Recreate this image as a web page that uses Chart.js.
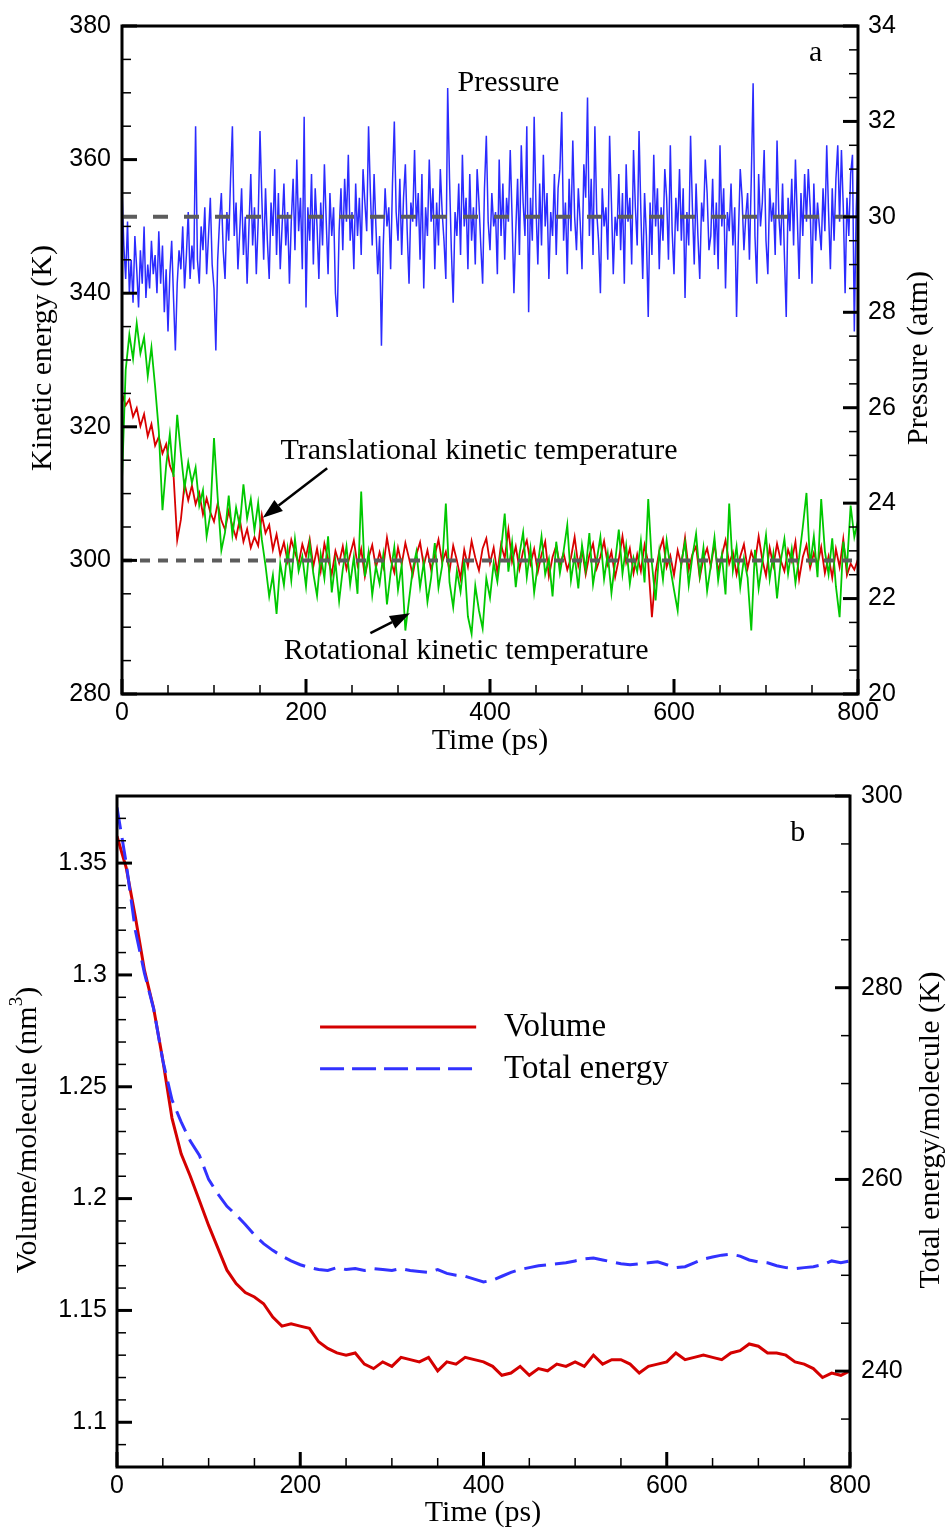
<!DOCTYPE html>
<html>
<head>
<meta charset="utf-8">
<script src="https://cdn.jsdelivr.net/npm/chart.js@4.4.1/dist/chart.umd.min.js"></script>
<style>
html, body { margin: 0; padding: 0; background: #fff; }
canvas { display: block; }
</style>
</head>
<body>
<canvas id="chartA" width="950" height="765"></canvas>
<canvas id="chartB" width="950" height="767"></canvas>
<script>
// ---- panel a ----
// pressure sampled every 2 ps, temperatures every 4 ps (0 to 800)
const stepP = 2;
const stepA = 4;

// pressure (atm), right axis
const pressure = [
  30.6, 29.4, 28.7, 29.9, 28.4, 29.1, 28.2, 29.6, 28.9, 28.1, 29.3, 28.6, 29.8, 28.3, 29.0, 28.5, 29.5, 28.8, 29.2, 28.4,
  29.7, 28.6, 29.4, 28.0, 28.9, 27.6, 28.8, 29.5, 28.3, 27.2, 28.6, 29.3, 28.9, 29.8, 28.5, 29.2, 30.1, 28.7, 29.4, 28.9,
  31.9, 29.1, 28.6, 29.8, 29.3, 30.2, 28.8, 29.6, 30.4, 29.0, 28.5, 27.2, 29.1, 29.9, 30.5, 29.3, 28.7, 30.1, 29.5, 30.8,
  31.9, 29.6, 30.3, 28.9, 29.7, 30.6, 29.2, 30.0, 28.6, 29.8, 30.9, 29.4, 30.2, 28.8, 29.9, 31.8, 30.4, 29.1, 30.6, 29.5,
  28.7, 30.3, 29.6, 31.0, 29.2, 30.5, 28.9, 29.8, 30.7, 29.4, 30.1, 28.6, 29.9, 30.8, 29.3, 31.2, 29.7, 30.4, 28.9, 32.1,
  28.1, 30.2, 29.5, 30.9, 29.0, 30.6, 29.8, 28.7, 30.3, 29.4, 31.1, 29.9, 28.8, 30.5, 29.6, 30.2, 28.4, 27.9, 29.7, 30.6,
  29.3, 30.8, 29.9, 31.3, 29.5, 30.1, 28.9, 30.7, 29.6, 30.4, 29.2, 31.0, 30.3, 29.7, 31.9, 30.5, 29.4, 30.9, 29.8, 28.8,
  29.6, 27.3, 29.4, 30.6, 29.8, 30.2, 28.9, 30.7, 32.0, 30.1, 29.5, 30.8, 29.2, 30.4, 31.1, 29.7, 28.6, 30.3, 29.9, 31.4,
  29.8, 30.5, 29.1, 30.9, 28.5, 30.2, 29.6, 31.2, 29.9, 30.6, 28.9, 30.3, 29.4, 31.0, 30.1, 29.5, 28.7, 32.7, 30.8, 29.3,
  28.2, 30.1, 29.6, 30.7, 29.2, 31.3, 29.8, 30.4, 28.9, 30.9, 29.5, 30.2, 29.0, 31.0, 30.3, 29.4, 28.6, 30.6, 31.7, 29.9,
  29.3, 30.5, 29.8, 30.1, 28.8, 31.2, 29.6, 30.7, 29.1, 30.4, 29.9, 31.4, 30.0, 28.4, 29.7, 30.8, 29.2, 31.5, 30.3, 29.6,
  31.9, 28.0, 30.4, 29.5, 32.1, 30.2, 29.0, 30.7, 29.4, 31.3, 29.8, 30.5, 28.7, 30.1, 29.6, 30.9, 29.2, 30.6, 31.0, 32.2,
  29.5, 30.3, 28.8, 30.8, 29.7, 31.6, 30.0, 29.3, 30.6, 29.9, 28.9, 31.1, 30.4, 32.5, 29.6, 30.8, 29.2, 31.9, 30.1, 29.5,
  28.4, 30.6, 29.8, 30.2, 29.1, 31.7, 30.3, 28.8, 30.0, 29.6, 30.9, 29.3, 30.5, 28.6, 31.1, 29.9, 30.4, 29.0, 31.4, 30.2,
  29.4, 31.8, 30.1, 28.7, 30.5, 29.6, 27.9, 30.3, 29.2, 31.3, 29.8, 30.6, 28.9, 30.2, 29.5, 31.0, 30.4, 29.1, 31.5, 29.7,
  28.8, 30.4, 29.7, 31.0, 29.5, 30.6, 28.3, 30.1, 29.4, 31.7, 30.2, 29.0, 30.7, 29.6, 28.7, 30.3, 29.9, 31.2, 30.5, 29.3,
  29.6, 30.8, 29.2, 30.3, 28.9, 31.5, 29.8, 30.6, 28.5, 30.1, 29.7, 30.7, 29.4, 30.2, 27.9, 29.6, 31.0, 30.4, 29.3, 30.0,
  30.5, 29.1, 30.8, 32.8, 29.6, 28.6, 30.9, 29.8, 30.3, 31.4, 29.5, 28.8, 30.6, 29.9, 30.3, 29.2, 31.6, 30.0, 29.4, 30.7,
  29.2, 27.9, 30.4, 29.7, 30.8, 29.4, 31.2, 30.0, 28.7, 30.5, 29.6, 30.9, 29.9, 31.0, 30.2, 28.6, 30.7, 29.5, 30.3, 29.8,
  29.3, 30.6, 29.7, 31.5, 30.1, 28.9, 30.6, 29.5, 30.8, 31.5, 29.9, 31.4, 30.2, 28.4, 30.4, 29.6, 30.9, 31.3, 27.6, 30.1,
  31.3
];

// translational kinetic temperature (K), left axis
const transTemp = [
  325.0, 323.2, 324.1, 321.5, 322.8, 320.1, 321.9, 318.6, 320.4, 317.2,
  318.5, 316.0, 317.4, 314.2, 312.8, 303.0, 306.1, 311.5, 309.0, 311.2,
  308.4, 310.1, 306.9, 309.3, 307.2, 305.8, 308.5, 306.0, 304.6, 307.4,
  305.1, 303.4, 306.2, 302.8, 304.7, 301.9, 303.5, 302.2, 306.8, 304.1,
  305.3, 301.6, 303.9, 300.8, 302.7, 299.9, 303.1, 301.2, 299.5, 302.4,
  300.6, 303.2, 299.1, 301.8, 298.4, 302.5, 300.2, 297.9, 301.4, 299.6,
  302.1, 298.7, 300.9, 303.0, 299.3, 301.7, 297.6, 300.4, 302.3, 298.9,
  301.2, 299.0, 303.4, 300.1, 298.2, 301.9, 299.4, 302.6, 300.3, 297.8,
  300.9, 302.7, 299.2, 301.5, 298.6, 300.8, 303.1, 299.7, 301.3, 298.4,
  302.2, 300.0, 297.3, 301.6, 299.1, 302.9, 300.4, 298.5, 301.8, 303.3,
  299.6, 301.9, 298.1, 302.4, 300.3, 304.6, 299.8, 302.1, 298.7, 301.4,
  303.0, 299.5, 301.7, 298.3, 300.9, 302.8, 297.6, 300.5, 302.2, 299.3,
  301.1, 298.6, 300.4, 303.5, 299.2, 301.6, 297.9, 300.8, 302.5, 298.8,
  300.6, 302.9, 299.4, 301.3, 297.5, 300.2, 303.6, 299.7, 301.8, 298.1,
  300.9, 298.4, 302.3, 299.6, 291.5, 298.2, 301.4, 303.2, 299.0, 300.7,
  297.8, 301.5, 299.3, 303.4, 298.6, 300.9, 302.1, 297.4, 300.3, 301.8,
  299.1, 302.6, 298.3, 300.7, 303.0, 299.5, 301.2, 297.9, 300.6, 302.4,
  298.8, 301.3, 299.7, 303.6, 300.1, 297.7, 301.9, 299.2, 302.5, 300.0,
  298.4, 301.6, 299.9, 302.8, 297.2, 300.5, 302.3, 298.9, 301.1, 299.4,
  302.0, 298.1, 300.6, 297.4, 301.7, 299.0, 303.2, 297.8, 299.5, 298.6,
  300.2
];

// rotational kinetic temperature (K), left axis
const rotTemp = [
  312.0, 328.5, 333.8, 330.2, 335.5, 331.0, 333.4, 327.6, 331.9, 326.0,
  319.4, 307.5, 314.2, 318.9, 312.5, 321.8, 316.0, 310.8, 314.7, 311.6,
  313.9, 308.2, 310.5, 303.6, 306.9, 318.3, 309.4, 301.5, 304.2, 309.7,
  303.8, 307.9, 305.1, 311.4, 306.3, 309.2, 304.5, 308.6, 303.1, 299.2,
  294.6, 297.8, 292.0, 299.5, 296.3, 301.7, 297.0, 303.2, 298.4, 300.6,
  296.1, 302.5, 298.0, 294.7, 300.9, 297.3, 303.6, 295.2, 299.8, 293.9,
  298.7, 302.1, 296.4, 300.5, 295.0, 310.3, 297.6, 301.2, 294.8, 299.1,
  296.5, 300.8, 293.4, 298.2, 302.0, 295.6, 299.3, 289.5, 294.1, 298.6,
  301.3, 296.0, 299.7, 293.8, 297.4, 302.6, 295.9, 299.2, 308.5, 296.7,
  293.0, 298.4, 295.3, 300.1, 291.6, 289.0, 296.2, 292.5, 289.8, 297.3,
  294.4, 299.6, 296.8, 301.5, 307.0, 298.3, 302.7, 296.0, 300.9, 304.2,
  297.5, 301.8, 295.2, 299.4, 303.6, 297.9, 300.2, 294.6, 302.8, 298.1,
  301.4, 305.3, 297.0, 300.7, 295.8, 302.3, 298.6, 304.1, 296.4, 300.0,
  303.5, 297.2, 301.0, 295.1, 299.8, 304.6, 298.0, 302.2, 296.5, 300.4,
  298.3, 302.9, 296.7, 309.2, 299.5, 294.0, 301.3, 297.1, 303.0, 298.9,
  295.6, 292.5, 299.8, 302.7, 296.3, 300.6, 304.0, 297.7, 301.9, 295.4,
  299.2, 303.4, 297.0, 300.8, 294.9, 308.5, 298.5, 302.1, 296.0, 300.3,
  297.4, 289.5, 301.6, 295.8, 299.7, 303.8, 297.2, 301.0, 294.3, 299.9,
  303.2, 298.0, 301.7, 296.6, 300.4, 305.0, 310.1, 299.3, 303.6, 297.5,
  309.2, 301.4, 297.9, 303.3, 296.1, 291.5, 302.8, 299.0, 308.2, 303.5,
  306.0
];

const refTemp = 300;      // K, grey dashed
const refPressure = 30;   // atm, grey dashed

// ---- panel b: sampled every 10 ps from 0 to 800 ----
const stepB = 10;

// volume per molecule (nm^3), left axis
const volume = [
  1.362, 1.348, 1.326, 1.302, 1.285, 1.262, 1.236, 1.220, 1.210, 1.199,
  1.188, 1.178, 1.168, 1.162, 1.158, 1.156, 1.153, 1.147, 1.143, 1.144,
  1.143, 1.142, 1.136, 1.133, 1.131, 1.130, 1.131, 1.126, 1.124, 1.127,
  1.125, 1.129, 1.128, 1.127, 1.129, 1.123, 1.127, 1.126, 1.129, 1.128,
  1.127, 1.125, 1.121, 1.122, 1.125, 1.121, 1.124, 1.123, 1.126, 1.125,
  1.127, 1.125, 1.130, 1.126, 1.128, 1.128, 1.126, 1.122, 1.125, 1.126,
  1.127, 1.131, 1.128, 1.129, 1.130, 1.129, 1.128, 1.131, 1.132, 1.135,
  1.134, 1.131, 1.131, 1.130, 1.127, 1.126, 1.124, 1.120, 1.122, 1.121,
  1.123
];

// total energy per molecule (K), right axis
const totalEnergy = [
  298.8, 293.0, 286.0, 281.5, 277.8, 272.4, 268.3, 266.0, 264.0, 262.5,
  260.0, 258.5, 257.2, 256.3, 255.3, 254.2, 253.3, 252.6, 252.0, 251.5,
  251.1, 250.8, 250.6, 250.5, 250.8, 250.6, 250.7, 250.5, 250.7, 250.6,
  250.5, 250.7, 250.5, 250.4, 250.3, 250.6, 250.2, 250.0, 249.9, 249.6,
  249.3, 249.5, 249.9, 250.3, 250.6, 250.8, 251.0, 251.1, 251.2, 251.3,
  251.5, 251.7, 251.8, 251.6, 251.4, 251.2, 251.1, 251.2, 251.3, 251.4,
  251.1, 250.8, 250.9, 251.3, 251.7, 251.9, 252.1, 252.2, 252.0, 251.6,
  251.4, 251.3, 251.0, 250.8, 250.7, 250.8, 250.9, 251.1, 251.5, 251.3,
  251.5
];

// tick labels
const timeTicks = [0, 200, 400, 600, 800];
const keTicks = [280, 300, 320, 340, 360, 380];
const pressureTicks = [20, 22, 24, 26, 28, 30, 32, 34];
const volumeTicks = [1.1, 1.15, 1.2, 1.25, 1.3, 1.35];
const energyTicks = [240, 260, 280, 300];

const serif = '"Liberation Serif", "Times New Roman", serif';
const sans = '"Liberation Sans", Arial, sans-serif';

function toPoints(values, step) {
  return values.map((v, i) => ({ x: i * step, y: v }));
}

function fixedTicks(list) {
  return s => { s.ticks = list.map(v => ({ value: v })); };
}

// inward tecplot-style ticks
function drawTicks(chart, ax) {
  const ctx = chart.ctx, a = chart.chartArea, s = chart.scales[ax.id];
  const n = Math.round((s.max - s.min) / ax.minor);
  for (let i = 0; i <= n; i++) {
    const v = s.min + i * ax.minor;
    const major = Math.abs(v / ax.major - Math.round(v / ax.major)) < 1e-6;
    const len = major ? 15 : 9;
    const p = s.getPixelForValue(v);
    ctx.lineWidth = major ? 3 : 1.5;
    ctx.beginPath();
    if (ax.side === 'bottom') { ctx.moveTo(p, a.bottom); ctx.lineTo(p, a.bottom - len); }
    else if (ax.side === 'left') { ctx.moveTo(a.left, p); ctx.lineTo(a.left + len, p); }
    else { ctx.moveTo(a.right, p); ctx.lineTo(a.right - len, p); }
    ctx.stroke();
  }
}

function drawTitle(ctx, ti) {
  ctx.save();
  ctx.translate(ti.x, ti.y);
  if (ti.rot) ctx.rotate(ti.rot * Math.PI / 180);
  const parts = ti.parts || [{ t: ti.text }];
  const fonts = parts.map(p => (p.sup ? Math.round(ti.size * 0.62) : ti.size) + 'px ' + serif);
  let total = 0;
  const widths = parts.map((p, i) => {
    ctx.font = fonts[i];
    const w = ctx.measureText(p.t).width;
    total += w;
    return w;
  });
  let x = -total / 2;
  ctx.textAlign = 'left';
  ctx.textBaseline = 'middle';
  parts.forEach((p, i) => {
    ctx.font = fonts[i];
    ctx.fillText(p.t, x, p.sup ? -ti.size * 0.36 : 0);
    x += widths[i];
  });
  ctx.restore();
}

function drawArrow(ctx, x0, y0, x1, y1) {
  const ang = Math.atan2(y1 - y0, x1 - x0), hl = 20, hw = 7;
  const bx = x1 - hl * Math.cos(ang), by = y1 - hl * Math.sin(ang);
  ctx.lineWidth = 2.5;
  ctx.beginPath();
  ctx.moveTo(x0, y0);
  ctx.lineTo(bx, by);
  ctx.stroke();
  ctx.beginPath();
  ctx.moveTo(x1, y1);
  ctx.lineTo(bx + hw * Math.sin(ang), by - hw * Math.cos(ang));
  ctx.lineTo(bx - hw * Math.sin(ang), by + hw * Math.cos(ang));
  ctx.closePath();
  ctx.fill();
}

function decoPlugin(cfg) {
  return {
    id: 'deco',
    afterDraw(chart) {
      const ctx = chart.ctx, a = chart.chartArea, sx = chart.scales.x;
      ctx.save();
      ctx.strokeStyle = '#000';
      ctx.fillStyle = '#000';
      cfg.ticks.forEach(t => drawTicks(chart, t));
      ctx.lineWidth = 3;
      ctx.strokeRect(a.left, a.top, a.right - a.left, a.bottom - a.top);
      cfg.titles.forEach(t => drawTitle(ctx, t));
      (cfg.labels || []).forEach(l => {
        const sy = chart.scales[l.axis];
        ctx.font = l.size + 'px ' + serif;
        ctx.textAlign = l.align || 'center';
        ctx.textBaseline = 'middle';
        ctx.fillText(l.text, sx.getPixelForValue(l.x), sy.getPixelForValue(l.y));
      });
      (cfg.arrows || []).forEach(r => {
        const sy = chart.scales[r.axis];
        drawArrow(ctx, sx.getPixelForValue(r.x0), sy.getPixelForValue(r.y0),
                       sx.getPixelForValue(r.x1), sy.getPixelForValue(r.y1));
      });
      (cfg.legend || []).forEach(g => {
        const sy = chart.scales[g.axis];
        const py = sy.getPixelForValue(g.y);
        ctx.save();
        ctx.strokeStyle = g.color;
        ctx.lineWidth = 3;
        ctx.setLineDash(g.dash || []);
        ctx.beginPath();
        ctx.moveTo(sx.getPixelForValue(g.x0), py);
        ctx.lineTo(sx.getPixelForValue(g.x1), py);
        ctx.stroke();
        ctx.restore();
        ctx.font = g.size + 'px ' + serif;
        ctx.textAlign = 'left';
        ctx.textBaseline = 'middle';
        ctx.fillText(g.text, sx.getPixelForValue(g.xt), py);
      });
      ctx.restore();
    }
  };
}

function tickFont() {
  return { family: sans, size: 25 };
}

// ---------- panel a ----------
new Chart(document.getElementById('chartA'), {
  type: 'line',
  data: {
    datasets: [
      {
        data: [{ x: 0, y: refPressure }, { x: 800, y: refPressure }],
        yAxisID: 'yR', borderColor: '#5c5c5c', borderWidth: 4, borderDash: [15, 16]
      },
      {
        data: [{ x: 0, y: refTemp }, { x: 800, y: refTemp }],
        yAxisID: 'yL', borderColor: '#5c5c5c', borderWidth: 4, borderDash: [10, 8]
      },
      {
        label: 'Rotational kinetic temperature',
        data: toPoints(rotTemp, stepA),
        yAxisID: 'yL', borderColor: '#00c800', borderWidth: 1.8
      },
      {
        label: 'Translational kinetic temperature',
        data: toPoints(transTemp, stepA),
        yAxisID: 'yL', borderColor: '#d80000', borderWidth: 1.8
      },
      {
        label: 'Pressure',
        data: toPoints(pressure, stepP),
        yAxisID: 'yR', borderColor: '#2b2bff', borderWidth: 1.5
      }
    ]
  },
  options: {
    responsive: false,
    animation: false,
    layout: { padding: { top: 23, left: 0, right: 0, bottom: 0 } },
    elements: { point: { radius: 0 }, line: { tension: 0 } },
    plugins: { legend: { display: false }, tooltip: { enabled: false } },
    scales: {
      x: {
        type: 'linear', position: 'bottom', min: 0, max: 800,
        afterBuildTicks: fixedTicks(timeTicks),
        afterFit: s => { s.height = 71; },
        grid: { display: false, drawTicks: false },
        border: { display: false },
        ticks: { padding: 4, font: tickFont(), color: '#000', maxRotation: 0, autoSkip: false }
      },
      yL: {
        type: 'linear', position: 'left', min: 280, max: 380,
        afterBuildTicks: fixedTicks(keTicks),
        afterFit: s => { s.width = 122; },
        grid: { display: false, drawTicks: false },
        border: { display: false },
        ticks: { padding: 11, font: tickFont(), color: '#000' }
      },
      yR: {
        type: 'linear', position: 'right', min: 20, max: 34,
        afterBuildTicks: fixedTicks(pressureTicks),
        afterFit: s => { s.width = 92; },
        grid: { display: false, drawTicks: false },
        border: { display: false },
        ticks: { padding: 10, font: tickFont(), color: '#000' }
      }
    }
  },
  plugins: [decoPlugin({
    ticks: [
      { id: 'x', side: 'bottom', major: 200, minor: 50 },
      { id: 'yL', side: 'left', major: 20, minor: 5 },
      { id: 'yR', side: 'right', major: 2, minor: 0.5 }
    ],
    titles: [
      { text: 'Kinetic energy (K)', x: 43, y: 358, rot: -90, size: 30 },
      { text: 'Pressure (atm)', x: 919, y: 358, rot: -90, size: 30 },
      { text: 'Time (ps)', x: 490, y: 741, size: 30 }
    ],
    labels: [
      { text: 'Pressure', x: 420, y: 32.8, axis: 'yR', size: 30 },
      { text: 'a', x: 754, y: 376, axis: 'yL', size: 30 },
      { text: 'Translational kinetic temperature', x: 388, y: 316.4, axis: 'yL', size: 30 },
      { text: 'Rotational kinetic temperature', x: 374, y: 286.4, axis: 'yL', size: 30 }
    ],
    arrows: [
      { x0: 223, y0: 313.8, x1: 153, y1: 306.4, axis: 'yL' },
      { x0: 270, y0: 289.1, x1: 313, y1: 292.1, axis: 'yL' }
    ]
  })]
});

// ---------- panel b ----------
new Chart(document.getElementById('chartB'), {
  type: 'line',
  data: {
    datasets: [
      {
        label: 'Total energy',
        data: toPoints(totalEnergy, stepB),
        yAxisID: 'yR', borderColor: '#3232ff', borderWidth: 3, borderDash: [22, 9]
      },
      {
        label: 'Volume',
        data: toPoints(volume, stepB),
        yAxisID: 'yL', borderColor: '#d40000', borderWidth: 3
      }
    ]
  },
  options: {
    responsive: false,
    animation: false,
    layout: { padding: { top: 31, left: 0, right: 0, bottom: 0 } },
    elements: { point: { radius: 0 }, line: { tension: 0 } },
    plugins: { legend: { display: false }, tooltip: { enabled: false } },
    scales: {
      x: {
        type: 'linear', position: 'bottom', min: 0, max: 800,
        afterBuildTicks: fixedTicks(timeTicks),
        afterFit: s => { s.height = 65; },
        grid: { display: false, drawTicks: false },
        border: { display: false },
        ticks: { padding: 4, font: tickFont(), color: '#000', maxRotation: 0, autoSkip: false }
      },
      yL: {
        type: 'linear', position: 'left', min: 1.08, max: 1.38,
        afterBuildTicks: fixedTicks(volumeTicks),
        afterFit: s => { s.width = 117; },
        grid: { display: false, drawTicks: false },
        border: { display: false },
        ticks: { padding: 10, font: tickFont(), color: '#000', callback: v => String(+v.toFixed(2)) }
      },
      yR: {
        type: 'linear', position: 'right', min: 230, max: 300,
        afterBuildTicks: fixedTicks(energyTicks),
        afterFit: s => { s.width = 100; },
        grid: { display: false, drawTicks: false },
        border: { display: false },
        ticks: { padding: 11, font: tickFont(), color: '#000' }
      }
    }
  },
  plugins: [decoPlugin({
    ticks: [
      { id: 'x', side: 'bottom', major: 200, minor: 50 },
      { id: 'yL', side: 'left', major: 0.05, minor: 0.01 },
      { id: 'yR', side: 'right', major: 20, minor: 5 }
    ],
    titles: [
      { parts: [{ t: 'Volume/molecule (nm' }, { t: '3', sup: true }, { t: ')' }], x: 28, y: 365, rot: -90, size: 30 },
      { text: 'Total energy/molecule (K)', x: 931, y: 365, rot: -90, size: 30 },
      { text: 'Time (ps)', x: 483, y: 748, size: 30 }
    ],
    labels: [
      { text: 'b', x: 743, y: 1.3635, axis: 'yL', size: 30 }
    ],
    legend: [
      { text: 'Volume', color: '#d40000', x0: 221.6, x1: 392, xt: 422.4, y: 1.2767, axis: 'yL', size: 33 },
      { text: 'Total energy', color: '#3232ff', dash: [24, 8], x0: 221.6, x1: 392, xt: 422.4, y: 1.258, axis: 'yL', size: 33 }
    ]
  })]
});
</script>
</body>
</html>
